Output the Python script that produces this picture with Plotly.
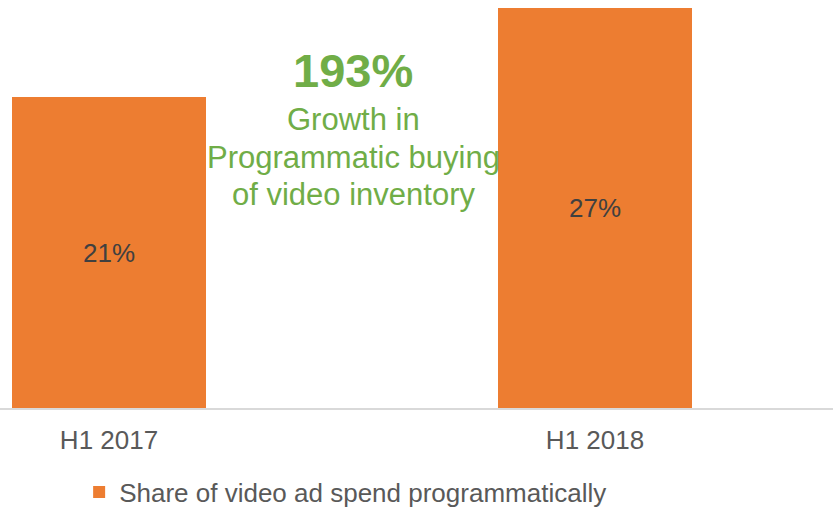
import plotly.graph_objects as go

# Data
periods = ["H1 2017", "H1 2018"]
share_pct = [21, 27]
series_name = "Share of video ad spend programmatically"
growth_headline = "193%"
growth_lines = ["Growth in", "Programmatic buying", "of video inventory"]

ORANGE = "#ED7D31"
GREEN = "#70AD47"
FONT = "Liberation Sans, Arial, sans-serif"

fig = go.Figure()
fig.add_trace(go.Bar(
    x=periods,
    y=share_pct,
    name=series_name,
    marker=dict(color=ORANGE, line=dict(width=0)),
    width=0.4,
    text=[f"{v}%" for v in share_pct],
    textposition="inside",
    insidetextanchor="middle",
    textangle=0,
    textfont=dict(family=FONT, size=26, color="#404040"),
    showlegend=True,
))

# Callout text between the bars
fig.add_annotation(
    x=0.424, y=0.828, xref="paper", yref="paper",
    text=f"<b>{growth_headline}</b>", showarrow=False,
    font=dict(family=FONT, size=47, color=GREEN),
    xanchor="center", yanchor="middle",
)
for line, ypos in zip(growth_lines, [0.708, 0.615, 0.5245]):
    fig.add_annotation(
        x=0.424, y=ypos, xref="paper", yref="paper",
        text=line, showarrow=False,
        font=dict(family=FONT, size=31, color=GREEN),
        xanchor="center", yanchor="middle",
    )

fig.update_layout(
    width=833, height=508,
    margin=dict(l=0, r=0, t=0, b=100, autoexpand=False),
    paper_bgcolor="white", plot_bgcolor="white",
    font=dict(family=FONT, color="#595959"),
    showlegend=True,
    legend=dict(
        orientation="h",
        x=0.095, xanchor="left",
        y=-0.206, yanchor="middle",
        font=dict(family=FONT, size=26, color="#595959"),
        itemwidth=30,
        bgcolor="rgba(0,0,0,0)",
    ),
    xaxis=dict(
        type="category",
        range=[-0.2243, 1.4897],
        showgrid=False, zeroline=False,
        showline=True, linecolor="#D9D9D9", linewidth=2,
        ticks="", ticklabelstandoff=8,
        tickfont=dict(family=FONT, size=26, color="#595959"),
        fixedrange=True,
    ),
    yaxis=dict(
        range=[0, 27.54],
        visible=False,
        showgrid=False, zeroline=False,
        fixedrange=True,
    ),
    bargap=0,
)

fig.write_html("out.html")
